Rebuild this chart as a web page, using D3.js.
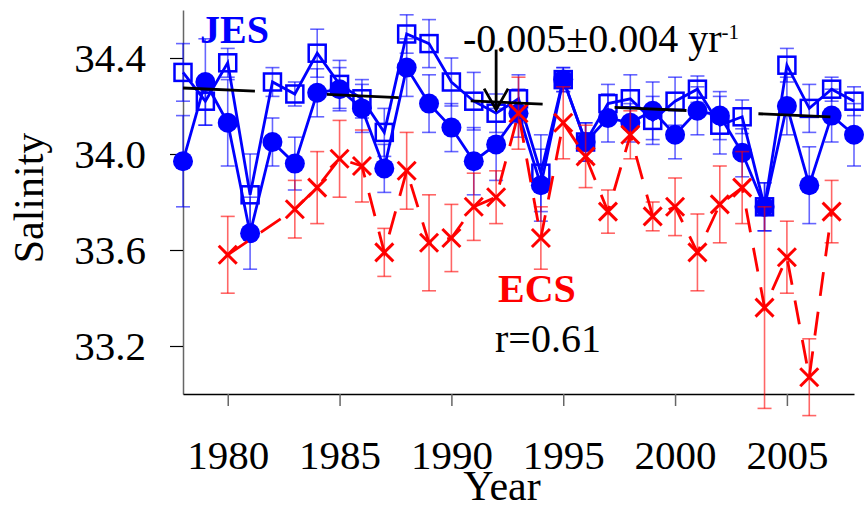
<!doctype html>
<html>
<head>
    <meta charset="utf-8">
    <title>JES / ECS salinity</title>
    <script src="https://d3js.org/d3.v7.min.js"></script>
    <style>
        body { margin: 0; background: #fff; }
        text { font-family: "Liberation Serif", "Times New Roman", serif; }
    </style>
</head>
<body>
    <script>
        // years for the JES series
        var years = [1978, 1979, 1980, 1981, 1982, 1983, 1984, 1985, 1986, 1987,
                     1988, 1989, 1990, 1991, 1992, 1993, 1994, 1995, 1996, 1997,
                     1998, 1999, 2000, 2001, 2002, 2003, 2004, 2005, 2006, 2007, 2008];
        // JES filled circles
        var jesCircle = [33.97, 34.30, 34.13, 33.67, 34.05, 33.96, 34.255, 34.27, 34.19, 33.94,
                         34.36, 34.21, 34.11, 33.97, 34.04, 34.17, 33.87, 34.31, 34.05, 34.15,
                         34.13, 34.18, 34.08, 34.18, 34.16, 34.005, 33.78, 34.20, 33.87, 34.16, 34.08];
        var jesCircleErr = [0.19, 0.18, 0.18, 0.15, 0.10, 0.11, 0.10, 0.09, 0.10, 0.10,
                            0.12, 0.12, 0.10, 0.14, 0.15, 0.10, 0.15, 0.05, 0.08, 0.10,
                            0.08, 0.12, 0.10, 0.10, 0.10, 0.10, 0.10, 0.12, 0.16, 0.11, 0.13];
        // JES open squares
        var jesSquare = [34.34, 34.22, 34.38, 33.83, 34.30, 34.25, 34.42, 34.29, 34.23, 34.09,
                         34.50, 34.46, 34.30, 34.22, 34.17, 34.23, 33.92, 34.31, 34.05, 34.21,
                         34.23, 34.14, 34.22, 34.27, 34.12, 34.155, 33.78, 34.37, 34.19, 34.27, 34.22];
        var jesSquareErr = [0.12, 0.10, 0.06, 0.17, 0.06, 0.05, 0.10, 0.10, 0.08, 0.10,
                            0.08, 0.10, 0.10, 0.12, 0.08, 0.10, 0.16, 0.05, 0.08, 0.08,
                            0.10, 0.10, 0.10, 0.055, 0.12, 0.07, 0.10, 0.07, 0.10, 0.05, 0.06];
        // ECS crosses
        var ecsYears = [1980, 1983, 1984, 1985, 1986, 1987, 1988, 1989, 1990, 1991,
                        1992, 1993, 1994, 1995, 1996, 1997, 1998, 1999, 2000, 2001,
                        2002, 2003, 2004, 2005, 2006, 2007];
        var ecsVal = [33.58, 33.77, 33.86, 33.98, 33.95, 33.59, 33.93, 33.63, 33.65, 33.78,
                      33.82, 34.17, 33.65, 34.13, 33.99, 33.76, 34.08, 33.74, 33.78, 33.59,
                      33.79, 33.86, 33.36, 33.57, 33.07, 33.76];
        var ecsErr = [0.16, 0.12, 0.15, 0.16, 0.15, 0.10, 0.16, 0.20, 0.14, 0.14,
                      0.11, 0.15, 0.13, 0.15, 0.13, 0.09, 0.10, 0.06, 0.12, 0.16,
                      0.16, 0.15, 0.42, 0.15, 0.16, 0.13];
        // linear trend of JES
        var trendYears = [1978, 2008];
        var trendVals = [34.275, 34.15];
        // arrow at 1992
        var arrowYear = 1992;
        var arrowVals = [34.435, 34.185];

        var xTicks = [1980, 1985, 1990, 1995, 2000, 2005];
        var yTicks = [33.2, 33.6, 34.0, 34.4];

        var blue = "#0000ff";
        var red = "#ff0000";

        var svg = d3.select("body").append("svg")
            .attr("width", 864).attr("height", 506);

        var x = d3.scaleLinear().domain([1978, 2008]).range([183, 854]);
        var y = d3.scaleLinear().domain([33.0, 34.6]).range([394, 10]);

        // axes
        var yAxis = svg.append("g")
            .attr("transform", "translate(183,0)")
            .call(d3.axisLeft(y).tickValues(yTicks).tickSize(13).tickSizeOuter(0)
                .tickPadding(24).tickFormat(d3.format(".1f")));
        yAxis.select(".domain").attr("stroke", "#666").attr("stroke-width", 1.5);
        yAxis.selectAll(".tick line").attr("stroke", "#000").attr("stroke-width", 1.2);
        yAxis.selectAll(".tick text").attr("font-size", 41).attr("fill", "#000")
            .style("font-family", "'Liberation Serif', serif");

        var xAxis = svg.append("g")
            .attr("transform", "translate(0,394)")
            .call(d3.axisBottom(x).tickValues(xTicks).tickSize(12).tickSizeOuter(0)
                .tickPadding(34).tickFormat(d3.format("d")));
        xAxis.select(".domain").attr("stroke", "#000").attr("stroke-width", 1.5);
        xAxis.selectAll(".tick line").attr("stroke", "#666").attr("stroke-width", 1.5);
        xAxis.selectAll(".tick text").attr("font-size", 41).attr("fill", "#000")
            .style("font-family", "'Liberation Serif', serif");

        svg.append("text")
            .attr("transform", "translate(43,198) rotate(-90)")
            .attr("text-anchor", "middle")
            .attr("font-size", 42)
            .text("Salinity");
        svg.append("text")
            .attr("x", 502).attr("y", 500)
            .attr("text-anchor", "middle")
            .attr("font-size", 42)
            .text("Year");

        // error bars helper
        function errorBars(g, xs, vals, errs, color, capW) {
            for (var i = 0; i < xs.length; i++) {
                var cx = x(xs[i]);
                var y0 = y(vals[i] - errs[i]);
                var y1 = y(vals[i] + errs[i]);
                g.append("line").attr("x1", cx).attr("x2", cx).attr("y1", y0).attr("y2", y1);
                g.append("line").attr("x1", cx - capW / 2).attr("x2", cx + capW / 2).attr("y1", y0).attr("y2", y0);
                g.append("line").attr("x1", cx - capW / 2).attr("x2", cx + capW / 2).attr("y1", y1).attr("y2", y1);
            }
            g.attr("stroke", color).attr("stroke-width", 1.6).attr("stroke-opacity", 0.6);
        }

        // JES
        errorBars(svg.append("g"), years, jesSquare, jesSquareErr, blue, 14);
        errorBars(svg.append("g"), years, jesCircle, jesCircleErr, blue, 14);

        var line = d3.line().x(function(d) { return x(d[0]); }).y(function(d) { return y(d[1]); });

        svg.append("path")
            .attr("d", line(d3.zip(years, jesSquare)))
            .attr("fill", "none").attr("stroke", blue).attr("stroke-width", 2.8);
        svg.append("path")
            .attr("d", line(d3.zip(years, jesCircle)))
            .attr("fill", "none").attr("stroke", blue).attr("stroke-width", 2.8);

        svg.append("g").selectAll("rect")
            .data(d3.zip(years, jesSquare))
            .enter().append("rect")
            .attr("x", function(d) { return x(d[0]) - 8.5; })
            .attr("y", function(d) { return y(d[1]) - 8.5; })
            .attr("width", 17).attr("height", 17)
            .attr("fill", "none").attr("stroke", blue).attr("stroke-width", 2.5);

        svg.append("g").selectAll("circle")
            .data(d3.zip(years, jesCircle))
            .enter().append("circle")
            .attr("cx", function(d) { return x(d[0]); })
            .attr("cy", function(d) { return y(d[1]); })
            .attr("r", 10)
            .attr("fill", blue);

        // ECS
        errorBars(svg.append("g"), ecsYears, ecsVal, ecsErr, red, 14);

        svg.append("path")
            .attr("d", line(d3.zip(ecsYears, ecsVal)))
            .attr("fill", "none").attr("stroke", red).attr("stroke-width", 2.8)
            .attr("stroke-dasharray", "24,16");

        var crosses = svg.append("g").attr("stroke", red).attr("stroke-width", 3);
        for (var i = 0; i < ecsYears.length; i++) {
            var cx = x(ecsYears[i]), cy = y(ecsVal[i]), s = 9;
            crosses.append("line").attr("x1", cx - s).attr("y1", cy - s).attr("x2", cx + s).attr("y2", cy + s);
            crosses.append("line").attr("x1", cx - s).attr("y1", cy + s).attr("x2", cx + s).attr("y2", cy - s);
        }

        // trend line
        svg.append("path")
            .attr("d", line(d3.zip(trendYears, trendVals)))
            .attr("fill", "none").attr("stroke", "#000").attr("stroke-width", 2.8)
            .attr("stroke-dasharray", "72,72");

        // arrow
        var ax = x(arrowYear), ay0 = y(arrowVals[0]), ay1 = y(arrowVals[1]);
        svg.append("line")
            .attr("x1", ax).attr("x2", ax).attr("y1", ay0).attr("y2", ay1)
            .attr("stroke", "#000").attr("stroke-width", 2.8);
        svg.append("path")
            .attr("d", "M" + (ax - 12) + "," + (ay1 - 21) + "L" + ax + "," + ay1 + "L" + (ax + 12) + "," + (ay1 - 21))
            .attr("fill", "none").attr("stroke", "#000").attr("stroke-width", 2.8);

        // labels
        var slope = svg.append("text")
            .attr("x", 463).attr("y", 52)
            .attr("font-size", 40)
            .text("-0.005\u00b10.004 yr");
        slope.append("tspan")
            .attr("font-size", 21).attr("dy", -13)
            .text("-1");

        svg.append("text")
            .attr("x", 200).attr("y", 43)
            .attr("font-size", 40).attr("font-weight", "bold")
            .attr("fill", blue)
            .text("JES");
        svg.append("text")
            .attr("x", 498).attr("y", 302)
            .attr("font-size", 40).attr("font-weight", "bold")
            .attr("fill", red)
            .text("ECS");
        svg.append("text")
            .attr("x", 495).attr("y", 352)
            .attr("font-size", 40)
            .text("r=0.61");
    </script>
</body>
</html>
